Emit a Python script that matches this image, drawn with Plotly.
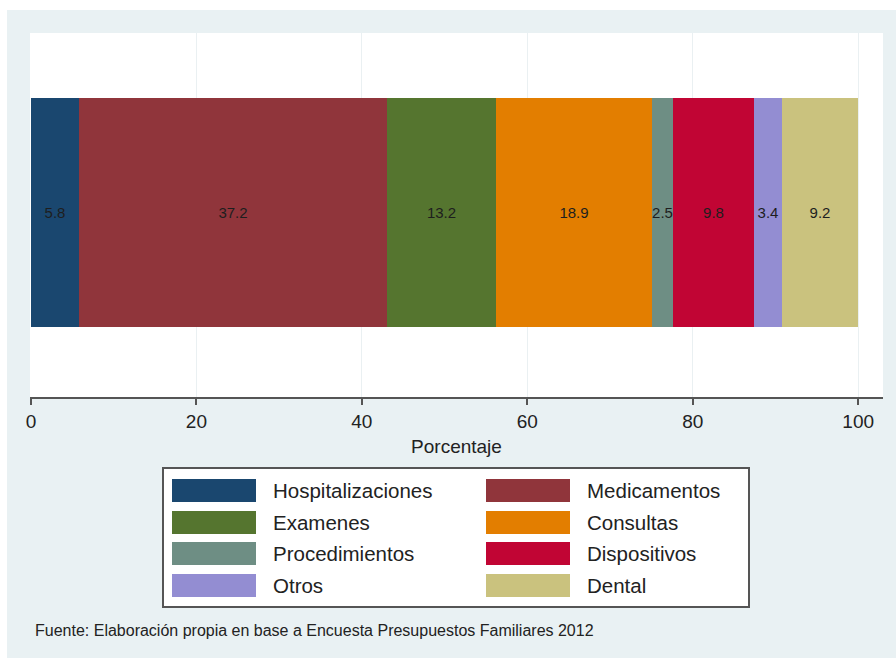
import plotly.graph_objects as go

# ---- data ----
categories = ["Hospitalizaciones", "Medicamentos", "Examenes", "Consultas",
              "Procedimientos", "Dispositivos", "Otros", "Dental"]
values = [5.8, 37.2, 13.2, 18.9, 2.5, 9.8, 3.4, 9.2]
colors = ["#1a476f", "#90353b", "#55752f", "#e37e00",
          "#6e8e84", "#c10534", "#938dd2", "#cac27e"]
tick_vals = [0, 20, 40, 60, 80, 100]
x_title = "Porcentaje"
source_text = "Fuente: Elaboración propia en base a Encuesta Presupuestos Familiares 2012"

W, H = 896, 660
L, R, T, B = 30, 13, 33, 263
PW, PH = W - L - R, H - T - B
FONT = "Liberation Sans, Arial, sans-serif"


def px2x(px):
    return (px - L) / PW


def px2y(py):
    return (H - B - py) / PH


fig = go.Figure()
for cat, val, col in zip(categories, values, colors):
    fig.add_trace(go.Bar(
        x=[val], y=[0], orientation="h", name=cat,
        marker=dict(color=col, line=dict(width=0)),
        width=1.258,
        text=[f"{val:.1f}"], textposition="inside", insidetextanchor="middle",
        constraintext="none", textangle=0,
        textfont=dict(family=FONT, size=15, color="#1e1e1e"),
        showlegend=False,
    ))

shapes = []
annotations = []
# outer white frame strips (graph region starts slightly inset)
shapes.append(dict(type="rect", xref="paper", yref="paper",
                   x0=px2x(0), x1=px2x(W), y0=px2y(0), y1=px2y(10),
                   fillcolor="white", line=dict(width=0), layer="below"))
shapes.append(dict(type="rect", xref="paper", yref="paper",
                   x0=px2x(0), x1=px2x(7), y0=px2y(0), y1=px2y(H),
                   fillcolor="white", line=dict(width=0), layer="below"))
shapes.append(dict(type="rect", xref="paper", yref="paper",
                   x0=px2x(0), x1=px2x(W), y0=px2y(658), y1=px2y(H),
                   fillcolor="white", line=dict(width=0), layer="below"))

# legend box
shapes.append(dict(type="rect", xref="paper", yref="paper",
                   x0=px2x(163), x1=px2x(749), y0=px2y(468), y1=px2y(607),
                   fillcolor="white", line=dict(color="#555555", width=2)))
col_sw = [172, 486]
col_tx = [271, 585]
row_top = [479, 511, 542, 574]
sw_w, sw_h = 84, 23
for i, (cat, col) in enumerate(zip(categories, colors)):
    r, c = divmod(i, 2)
    x0 = col_sw[c]
    y0 = row_top[r]
    shapes.append(dict(type="rect", xref="paper", yref="paper",
                       x0=px2x(x0), x1=px2x(x0 + sw_w),
                       y0=px2y(y0 + sw_h), y1=px2y(y0),
                       fillcolor=col, line=dict(width=0)))
    annotations.append(dict(xref="paper", yref="paper",
                            x=px2x(col_tx[c]), y=px2y(y0 + sw_h / 2),
                            text=cat, showarrow=False,
                            xanchor="left", yanchor="middle",
                            font=dict(family=FONT, size=20.5, color="#222222")))

annotations.append(dict(xref="paper", yref="paper",
                        x=px2x(33), y=px2y(630), text=source_text,
                        showarrow=False, xanchor="left", yanchor="middle",
                        font=dict(family=FONT, size=16, color="#222222")))

fig.update_layout(
    width=W, height=H,
    margin=dict(l=L, r=R, t=T, b=B, pad=0),
    paper_bgcolor="#e9f1f3",
    plot_bgcolor="white",
    barmode="stack",
    bargap=0,
    showlegend=False,
    shapes=shapes,
    annotations=annotations,
    xaxis=dict(
        range=[-0.12, 103.0],
        tickvals=tick_vals,
        ticktext=[str(v) for v in tick_vals],
        ticks="outside", ticklen=6, tickwidth=1.5, tickcolor="#555555",
        showline=True, linecolor="#555555", linewidth=2,
        showgrid=True, gridcolor="#eaf0f2", gridwidth=1,
        zeroline=False,
        tickfont=dict(family=FONT, size=19, color="#222222"),
        title=dict(text=x_title, font=dict(family=FONT, size=19, color="#222222"),
                   standoff=9),
        fixedrange=True,
    ),
    yaxis=dict(
        range=[-1.014, 0.986],
        showticklabels=False, showgrid=False, zeroline=False,
        showline=False, ticks="", fixedrange=True,
    ),
)

fig.write_html("out.html")
